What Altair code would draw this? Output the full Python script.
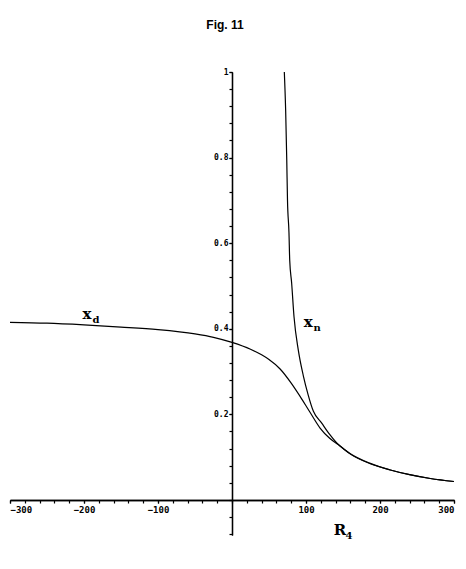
import altair as alt
import pandas as pd

# x_d curve
xd_x = [-300, -250, -200, -150, -100, -50, -25, 0, 25, 40, 50, 65, 80, 92, 105, 119, 132, 146, 160, 186, 214, 240, 268, 300]
xd_y = [0.415, 0.413, 0.409, 0.404, 0.398, 0.388, 0.380, 0.368, 0.352, 0.339, 0.328, 0.306, 0.273, 0.242, 0.206, 0.168, 0.144, 0.126, 0.107, 0.085, 0.070, 0.059, 0.050, 0.043]
# x_n curve
xn_x = [70.7, 72.5, 74, 75, 77, 78, 80.6, 83.8, 89.6, 96.4, 103, 110, 121, 132, 140, 146, 160, 186, 214, 240, 268, 300]
xn_y = [1.0, 0.911, 0.794, 0.70, 0.624, 0.56, 0.507, 0.428, 0.350, 0.290, 0.245, 0.207, 0.180, 0.153, 0.136, 0.126, 0.108, 0.086, 0.070, 0.059, 0.050, 0.043]

# curve labels
lab_text = ["x", "x", "R"]
lab_sub = ["d", "n", "4"]
lab_x = [-196, 103, 146]
lab_y = [0.434, 0.415, -0.07]

# axis ticks
x_major = [-300, -200, -100, 100, 200, 300]
x_minor = list(range(-300, 301, 20))
y_major = [0.2, 0.4, 0.6, 0.8, 1]
y_minor = [round(i * 0.04, 2) for i in range(-2, 26)]

rows = []
for i, (a, b) in enumerate(zip(xd_x, xd_y)):
    rows.append({"series": "x_d", "i": i, "x": a, "y": b})
for i, (a, b) in enumerate(zip(xn_x, xn_y)):
    rows.append({"series": "x_n", "i": i, "x": a, "y": b})
df = pd.DataFrame(rows)
labels = pd.DataFrame({"t": lab_text, "s": lab_sub, "x": lab_x, "y": lab_y})

xscale = alt.Scale(domain=[-300, 300], nice=False, zero=False)
yscale = alt.Scale(domain=[-0.082, 1], nice=False, zero=False)

common = dict(
    title=None, grid=False, labelColor="black", tickColor="black", domainColor="black",
    tickSize=3, domainWidth=1.3, tickWidth=1.2, labelOverlap=False,
    labelFont="DejaVu Sans Mono", labelFontWeight="bold",
)

x_major_axis = alt.Axis(values=x_major, orient="bottom", offset=-35, format="d",
                        labelFontSize=9, labelPadding=2, **common)
y_major_axis = alt.Axis(values=y_major, orient="left", offset=-222, format="",
                        labelFontSize=8, labelPadding=1, **common)
x_minor_axis = alt.Axis(values=x_minor, orient="bottom", offset=-35, labels=False, **common)
y_minor_axis = alt.Axis(values=y_minor, orient="left", offset=-222, labels=False, **common)

lines = alt.Chart(df).mark_line(color="black", strokeWidth=1.2, interpolate="monotone").encode(
    x=alt.X("x:Q", scale=xscale, axis=x_major_axis),
    y=alt.Y("y:Q", scale=yscale, axis=y_major_axis),
    detail="series:N",
    order="i:Q",
)

minor = alt.Chart(df).mark_point(opacity=0).encode(
    x=alt.X("x:Q", scale=xscale, axis=x_minor_axis),
    y=alt.Y("y:Q", scale=yscale, axis=y_minor_axis),
)

main_txt = alt.Chart(labels).mark_text(
    font="DejaVu Serif", fontSize=15, fontWeight="bold", color="black"
).encode(x=alt.X("x:Q", scale=xscale, axis=None), y=alt.Y("y:Q", scale=yscale, axis=None), text="t:N")

sub_txt = alt.Chart(labels).mark_text(
    font="DejaVu Serif", fontSize=10, fontWeight="bold", color="black", dx=9, dy=6
).encode(x=alt.X("x:Q", scale=xscale, axis=None), y=alt.Y("y:Q", scale=yscale, axis=None), text="s:N")

chart = alt.layer(lines, minor, main_txt, sub_txt).resolve_axis(
    x="independent", y="independent"
).properties(
    width=444, height=463,
    autosize=alt.AutoSizeParams(type="none"),
    padding={"left": 2, "top": 64, "right": 4, "bottom": 26},
    title=alt.TitleParams(
        "Fig. 11", font="Liberation Sans", fontSize=12, fontWeight="bold",
        color="black", anchor="middle", frame="group", offset=36, dx=-7,
    ),
    background="white",
).configure_view(stroke=None)

chart.save("out.html", embed_options={"renderer": "svg", "actions": False})
